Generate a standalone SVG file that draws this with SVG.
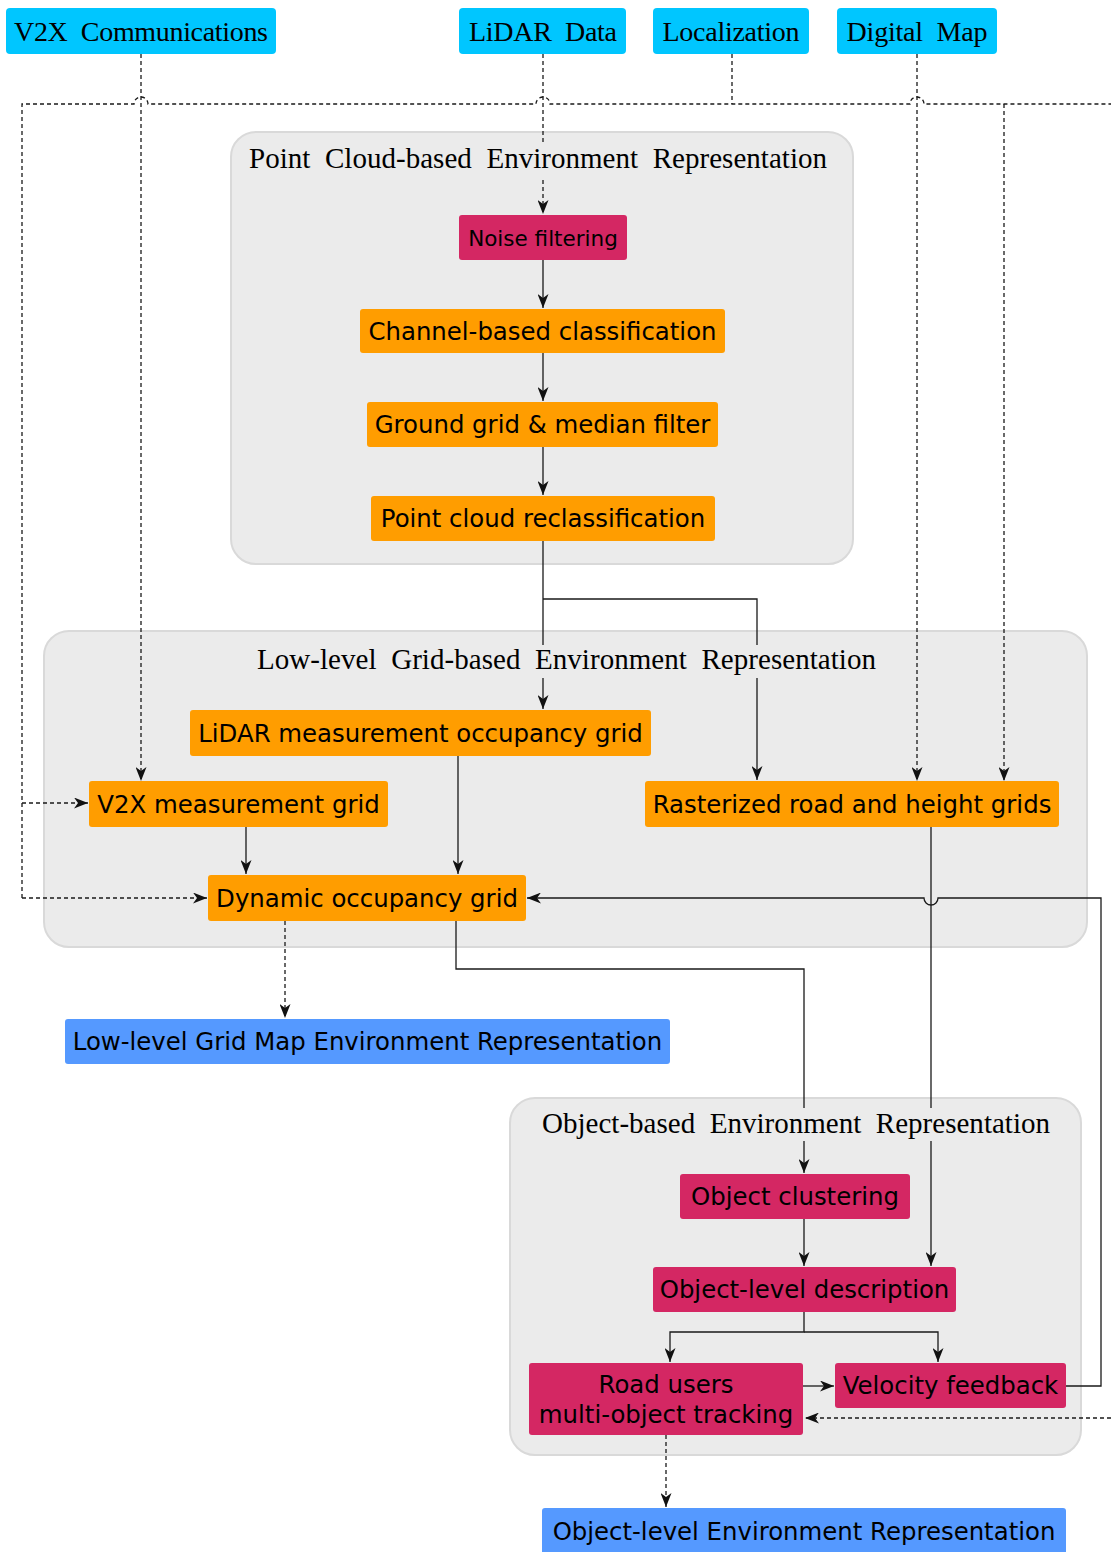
<svg xmlns="http://www.w3.org/2000/svg" width="1111" height="1552" viewBox="0 0 1111 1552">
<style>
.cont{fill:#EBEBEB;stroke:#D9D9D9;stroke-width:2}
.ctitle{font-family:"Liberation Serif","Times New Roman",serif;font-size:29px;fill:#000}
.tbg{fill:#EBEBEB}
.src rect{fill:#00C6FF}
.src text{font-family:"Liberation Serif","Times New Roman",serif;font-size:28px;fill:#000;text-anchor:middle}
.or rect{fill:#FF9D00}
.cr rect{fill:#D42763}
.bl rect{fill:#5599FF}
.nd text{font-family:"DejaVu Sans",Verdana,sans-serif;font-size:24.4px;fill:#000;text-anchor:middle}
.ln{fill:none;stroke:#1a1a1a;stroke-width:1.3}
.dl{fill:none;stroke:#1a1a1a;stroke-width:1.3;stroke-dasharray:4,3}
</style>
<defs>
<marker id="ah" viewBox="0 0 14 11" markerWidth="14" markerHeight="11" refX="14" refY="5.5" orient="auto" markerUnits="userSpaceOnUse">
<path d="M0,0 L14,5.5 L0,11 L4,5.5 z" fill="#111"/>
</marker>
</defs>

<g id="containers">
<rect id="pc-container" class="cont" x="231" y="132" width="622" height="432" rx="25"/>
<rect id="ll-container" class="cont" x="44" y="631" width="1043" height="316" rx="25"/>
<rect id="ob-container" class="cont" x="510" y="1098" width="571" height="357" rx="25"/>
</g>

<g id="connectors">
<path class="dl" d="M141,54 V781" marker-end="url(#ah)"/>
<path class="dl" d="M543,54 V214" marker-end="url(#ah)"/>
<path class="dl" d="M732,54 V104"/>
<path class="dl" d="M917,54 V781" marker-end="url(#ah)"/>
<path class="dl" d="M22,898 V104 H134 A7,7 0 0 1 148,104 H536 A7,7 0 0 1 550,104 H910 A7,7 0 0 1 924,104 H1111"/>
<path class="dl" d="M22,898 H207" marker-end="url(#ah)"/>
<path class="dl" d="M22,803 H88" marker-end="url(#ah)"/>
<path class="dl" d="M1004,104 V781" marker-end="url(#ah)"/>
<path class="dl" d="M1111,1418 H805" marker-end="url(#ah)"/>
<path class="dl" d="M285,921 V1018" marker-end="url(#ah)"/>
<path class="dl" d="M666,1435 V1507" marker-end="url(#ah)"/>
<path class="ln" d="M543,260 V308" marker-end="url(#ah)"/>
<path class="ln" d="M543,353 V401" marker-end="url(#ah)"/>
<path class="ln" d="M543,447 V495" marker-end="url(#ah)"/>
<path class="ln" d="M543,541 V709" marker-end="url(#ah)"/>
<path class="ln" d="M543,599 H757 V780" marker-end="url(#ah)"/>
<path class="ln" d="M458,756 V874" marker-end="url(#ah)"/>
<path class="ln" d="M246,827 V874" marker-end="url(#ah)"/>
<path class="ln" d="M931,827 V1266" marker-end="url(#ah)"/>
<path class="ln" d="M456,921 V969 H804 V1173" marker-end="url(#ah)"/>
<path class="ln" d="M804,1219 V1266" marker-end="url(#ah)"/>
<path class="ln" d="M804,1312 V1332 H670 V1362" marker-end="url(#ah)"/>
<path class="ln" d="M804,1332 H938 V1362" marker-end="url(#ah)"/>
<path class="ln" d="M803,1386 H834" marker-end="url(#ah)"/>
<path class="ln" d="M1066,1386 H1101 V898 H938 A7,7 0 0 1 924,898 H527" marker-end="url(#ah)"/>
</g>

<g id="container-titles">
<g id="pc-title">
<rect class="tbg" x="245" y="143" width="586" height="34"/>
<text class="ctitle" x="249" y="168" textLength="578" lengthAdjust="spacing" xml:space="preserve">Point  Cloud-based  Environment  Representation</text>
</g>
<g id="ll-title">
<rect class="tbg" x="253" y="645" width="627" height="33"/>
<text class="ctitle" x="257" y="669" textLength="619" lengthAdjust="spacing" xml:space="preserve">Low-level  Grid-based  Environment  Representation</text>
</g>
<g id="ob-title">
<rect class="tbg" x="538" y="1108" width="516" height="33"/>
<text class="ctitle" x="542" y="1133" textLength="508" lengthAdjust="spacing" xml:space="preserve">Object-based  Environment  Representation</text>
</g>
</g>

<g id="v2x-comm" class="src"><rect x="6" y="8" width="270" height="46" rx="4"/><text x="141" y="41" textLength="254" lengthAdjust="spacing" xml:space="preserve">V2X  Communications</text></g>
<g id="lidar-data" class="src"><rect x="459" y="8" width="167" height="46" rx="4"/><text x="543" y="41" textLength="148" lengthAdjust="spacing" xml:space="preserve">LiDAR  Data</text></g>
<g id="localization" class="src"><rect x="653" y="8" width="156" height="46" rx="4"/><text x="731" y="41" textLength="137" lengthAdjust="spacing">Localization</text></g>
<g id="digital-map" class="src"><rect x="837" y="8" width="160" height="46" rx="4"/><text x="917" y="41" textLength="141" lengthAdjust="spacing" xml:space="preserve">Digital  Map</text></g>

<g id="noise-filtering" class="nd cr"><rect x="459" y="215" width="168" height="45" rx="3"/><text x="543" y="245.5" style="font-size:21.5px">Noise filtering</text></g>
<g id="channel-classification" class="nd or"><rect x="360" y="309" width="365" height="44" rx="3"/><text x="542.5" y="339.5">Channel-based classification</text></g>
<g id="ground-grid" class="nd or"><rect x="367" y="402" width="351" height="45" rx="3"/><text x="542.5" y="433">Ground grid &amp; median filter</text></g>
<g id="pc-reclass" class="nd or"><rect x="371" y="496" width="344" height="45" rx="3"/><text x="543" y="527">Point cloud reclassification</text></g>

<g id="lidar-occ-grid" class="nd or"><rect x="190" y="710" width="461" height="46" rx="3"/><text x="420.5" y="741.5">LiDAR measurement occupancy grid</text></g>
<g id="v2x-grid" class="nd or"><rect x="89" y="781" width="299" height="46" rx="3"/><text x="238.5" y="812.5">V2X measurement grid</text></g>
<g id="rasterized-grids" class="nd or"><rect x="645" y="781" width="414" height="46" rx="3"/><text x="852" y="812.5">Rasterized road and height grids</text></g>
<g id="dynamic-grid" class="nd or"><rect x="208" y="875" width="318" height="46" rx="3"/><text x="367" y="906.5">Dynamic occupancy grid</text></g>

<g id="lowlevel-output" class="nd bl"><rect x="65" y="1019" width="605" height="45" rx="3"/><text x="367.5" y="1050">Low-level Grid Map Environment Representation</text></g>

<g id="object-clustering" class="nd cr"><rect x="680" y="1174" width="230" height="45" rx="3"/><text x="795" y="1205">Object clustering</text></g>
<g id="object-description" class="nd cr"><rect x="653" y="1267" width="303" height="45" rx="3"/><text x="804.5" y="1298">Object-level description</text></g>
<g id="mot" class="nd cr"><rect x="529" y="1363" width="274" height="72" rx="3"/><text x="666" y="1393">Road users</text><text x="666" y="1423">multi-object tracking</text></g>
<g id="velocity-feedback" class="nd cr"><rect x="835" y="1363" width="231" height="45" rx="3"/><text x="950.5" y="1394">Velocity feedback</text></g>

<g id="object-output" class="nd bl"><rect x="542" y="1508" width="524" height="54" rx="3"/><text x="804" y="1540">Object-level Environment Representation</text></g>
</svg>
